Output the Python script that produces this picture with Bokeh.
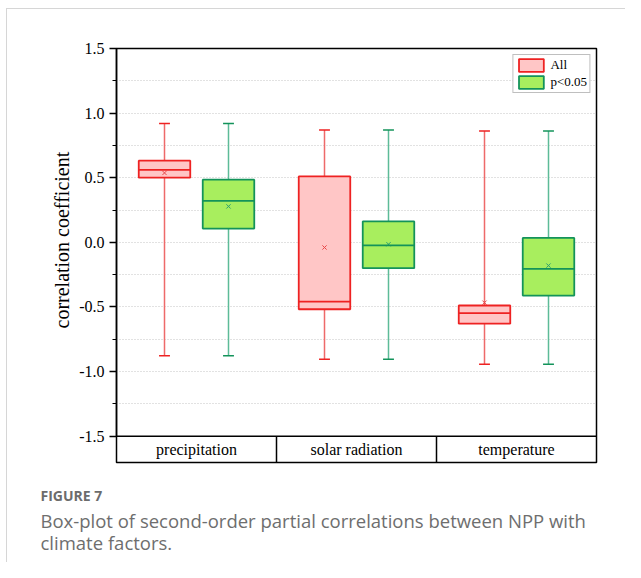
from bokeh.plotting import figure
from bokeh.models import (ColumnDataSource, FixedTicker, NumeralTickFormatter, Range1d,
                          Span, Legend, LegendItem, Title)
from bokeh.transform import dodge
from bokeh.core.properties import value
from bokeh.embed import file_html
from bokeh.resources import INLINE

# ---- data ----
categories = ["precipitation", "solar radiation", "temperature"]

all_lo = [-0.878, -0.905, -0.944]
all_q1 = [0.500, -0.518, -0.630]
all_med = [0.560, -0.459, -0.548]
all_q3 = [0.632, 0.510, -0.489]
all_hi = [0.920, 0.870, 0.862]
all_mean = [0.537, -0.040, -0.467]

sig_lo = [-0.878, -0.905, -0.944]
sig_q1 = [0.106, -0.200, -0.412]
sig_med = [0.320, -0.023, -0.205]
sig_q3 = [0.485, 0.162, 0.034]
sig_hi = [0.920, 0.870, 0.862]
sig_mean = [0.278, -0.015, -0.180]

y_ticks = [-1.5, -1.0, -0.5, 0.0, 0.5, 1.0, 1.5]
y_minor = [-1.25, -0.75, -0.25, 0.25, 0.75, 1.25]
grid_ticks = [-1.25, -1.0, -0.75, -0.5, -0.25, 0.0, 0.25, 0.5, 0.75, 1.0, 1.25]

legend_labels = ["All", "p<0.05"]
y_label = "correlation coefficient"
fig_title = "FIGURE 7"
caption_lines = ["Box-plot of second-order partial correlations between NPP with",
                 "climate factors."]

# ---- styling ----
SERIF = "Liberation Serif"
SANS = "Open Sans"
Y_MIN, Y_MAX = -1.704, 1.5
LABEL_Y = -1.603
OFF = 0.2
BOX_W = 0.322
CAP = 0.034
CARD = "#d6d6d6"

src = ColumnDataSource(dict(
    cat=categories,
    all_lo=all_lo, all_q1=all_q1, all_med=all_med, all_q3=all_q3, all_hi=all_hi, all_mean=all_mean,
    sig_lo=sig_lo, sig_q1=sig_q1, sig_med=sig_med, sig_q3=sig_q3, sig_hi=sig_hi, sig_mean=sig_mean,
))
div_src = ColumnDataSource(dict(cat=categories[:-1]))

p = figure(width=625, height=562, x_range=categories, y_range=Range1d(Y_MIN, Y_MAX),
           output_backend="svg", toolbar_location=None,
           min_border_left=116, min_border_right=29, min_border_top=48, min_border_bottom=100)
p.border_fill_color = None
p.background_fill_color = "white"
p.styles = {
    "background-color": "white",
    "background-image": f"linear-gradient({CARD},{CARD}), linear-gradient({CARD},{CARD})",
    "background-size": "100% 1px, 1px 100%",
    "background-position": "6px 8px, 6px 8px",
    "background-repeat": "no-repeat",
}

p.outline_line_color = "black"
p.outline_line_width = 1.5
p.outline_line_alpha = 1.0
p.xaxis.visible = False
p.xgrid.visible = False

yax = p.yaxis[0]
yax.bounds = (y_ticks[0], y_ticks[-1])
yax.ticker = FixedTicker(ticks=y_ticks, minor_ticks=y_minor)
yax.formatter = NumeralTickFormatter(format="0.0")
yax.axis_line_width = 1.5
yax.axis_line_color = "black"
yax.major_tick_line_color = "black"
yax.major_tick_line_width = 1.5
yax.major_tick_out = 7
yax.major_tick_in = 0
yax.minor_tick_line_color = "black"
yax.minor_tick_line_width = 1.2
yax.minor_tick_out = 4
yax.minor_tick_in = 0
yax.major_label_text_font = SERIF
yax.major_label_text_font_size = "16px"
yax.major_label_text_color = "black"
yax.major_label_standoff = 5

# y-axis title, centred on the value range (-1.5 .. 1.5) rather than the full frame
ytitle = Title(text=y_label, align="left", offset=134, standoff=7,
               text_font=SERIF, text_font_size="20px", text_font_style="normal",
               text_color="black")
p.add_layout(ytitle, "left")

p.ygrid.ticker = FixedTicker(ticks=grid_ticks)
p.ygrid.grid_line_color = "#c4c4c4"
p.ygrid.grid_line_dash = "1 2"
p.ygrid.grid_line_width = 1

# category band below the plot area
p.add_layout(Span(location=-1.5, dimension="width", line_color="black", line_width=1.5))
p.segment(x0=dodge("cat", 0.5, range=p.x_range), x1=dodge("cat", 0.5, range=p.x_range),
          y0=Y_MIN, y1=-1.5, source=div_src, line_color="black", line_width=1.5)
p.text(x="cat", y=LABEL_Y, text="cat", source=src, text_font=value(SERIF),
       text_font_size="16px", text_align="center", text_baseline="middle", text_color="black")

def draw_box(prefix, off, fill, line, wline, mcolor):
    xc = dodge("cat", off, range=p.x_range)
    p.segment(x0=xc, x1=xc, y0=prefix + "_hi", y1=prefix + "_q3", source=src,
              line_color=wline, line_width=1.5)
    p.segment(x0=xc, x1=xc, y0=prefix + "_lo", y1=prefix + "_q1", source=src,
              line_color=wline, line_width=1.5)
    for end in ("_hi", "_lo"):
        p.segment(x0=dodge("cat", off - CAP, range=p.x_range),
                  x1=dodge("cat", off + CAP, range=p.x_range),
                  y0=prefix + end, y1=prefix + end, source=src,
                  line_color=line, line_width=1.5)
    box = p.vbar(x=xc, width=BOX_W, bottom=prefix + "_q1", top=prefix + "_q3", source=src,
                 fill_color=fill, line_color=line, line_width=1.8)
    p.scatter(x=xc, y=prefix + "_mean", source=src, marker="x", size=6,
              line_color=mcolor, line_width=1)
    p.segment(x0=dodge("cat", off - BOX_W / 2, range=p.x_range),
              x1=dodge("cat", off + BOX_W / 2, range=p.x_range),
              y0=prefix + "_med", y1=prefix + "_med", source=src,
              line_color=line, line_width=1.8)
    return box

box_all = draw_box("all", -OFF, "#FFC6C6", "#EE2222", "#EE6A6A", "#E84848")
box_sig = draw_box("sig", OFF, "#A8EE5E", "#13935A", "#5DBB98", "#2DA070")

legend = Legend(items=[LegendItem(label=legend_labels[0], renderers=[box_all]),
                       LegendItem(label=legend_labels[1], renderers=[box_sig])],
                location="top_right")
legend.margin = 6
legend.padding = 2
legend.spacing = 1
legend.glyph_width = 31
legend.glyph_height = 16
legend.label_height = 16
legend.label_standoff = 4
legend.label_text_font = SERIF
legend.label_text_font_size = "13px"
legend.label_text_color = "black"
legend.border_line_color = "#808080"
legend.border_line_width = 1.2
legend.background_fill_alpha = 1.0
p.add_layout(legend)

# caption (titles below the plot, first one nearest the frame)
CAP_OFFSET = 40 - 116
spacer = Title(text=" ", align="left", standoff=17, text_font_size="2px")
t1 = Title(text=fig_title, align="left", offset=CAP_OFFSET, standoff=0,
           text_font=SANS, text_font_size="14px", text_font_style="bold", text_color="#6c6c6c")
t2 = Title(text="\n".join(caption_lines), align="left", offset=CAP_OFFSET, standoff=2,
           text_font=SANS, text_font_size="18.5px", text_font_style="normal",
           text_color="#6e6e6e", text_line_height=0.86)
p.add_layout(spacer, "below")
p.add_layout(t1, "below")
p.add_layout(t2, "below")

open("out.html", "w").write(file_html(p, INLINE))
